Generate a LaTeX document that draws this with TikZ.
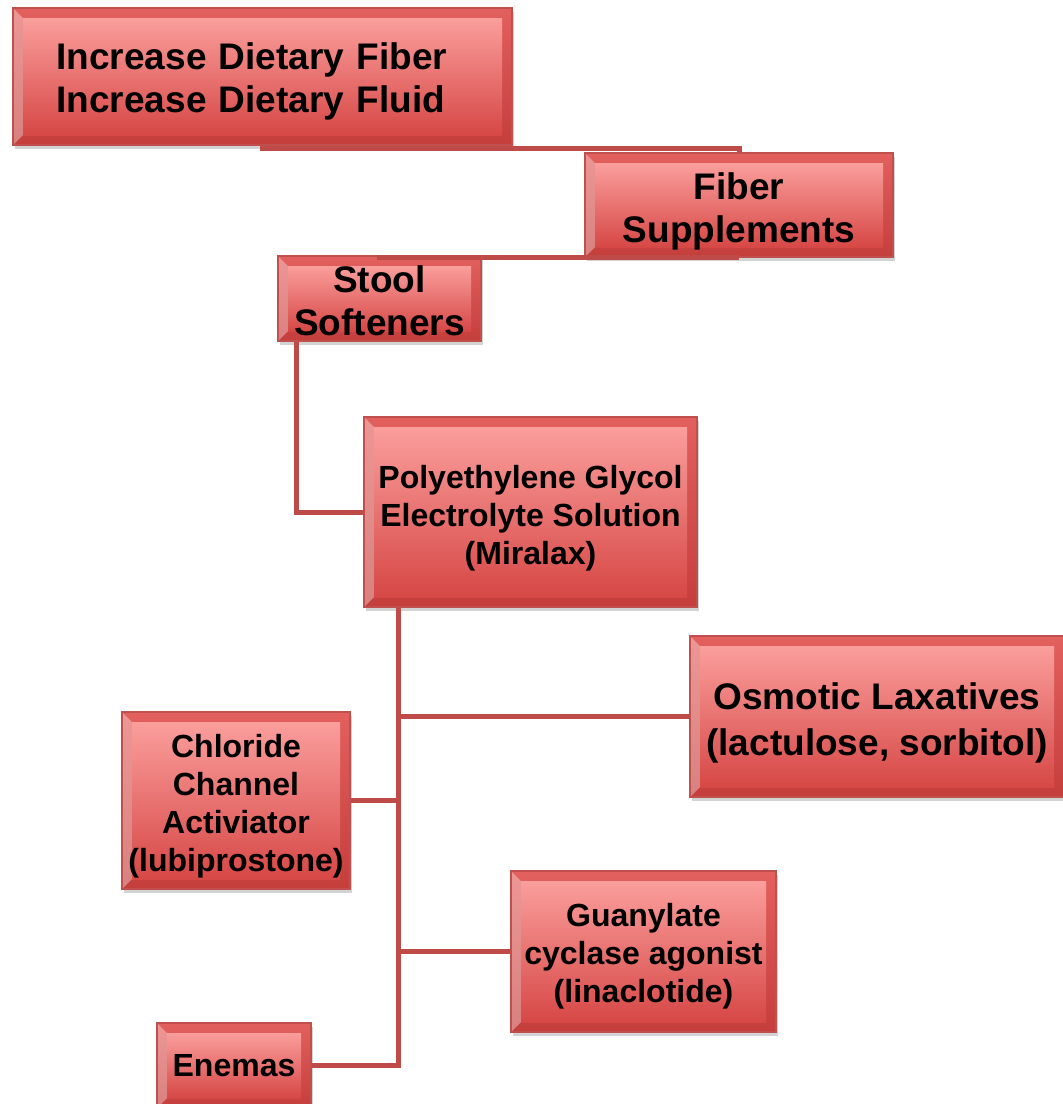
\documentclass[tikz,border=0pt]{standalone}
\usepackage{fontspec}
\setmainfont{Liberation Sans}
\usetikzlibrary{calc,shadows}
\definecolor{boxline}{RGB}{192,80,77}
\definecolor{boxtop}{RGB}{250,158,156}
\definecolor{boxbot}{RGB}{214,72,70}
\definecolor{rimtop}{RGB}{226,96,94}
\definecolor{rimbot}{RGB}{196,62,60}
\definecolor{linkred}{RGB}{190,75,72}
\begin{document}
\begin{tikzpicture}[x=0.5pt,y=-0.5pt]
	\tikzstyle{box}=[draw=boxline, line width=0.6pt, top color=rimtop, bottom color=rimbot,
		drop shadow={shadow xshift=1pt,shadow yshift=-2pt,opacity=0.35},
		align=center, inner sep=0pt, font=\bfseries\fontsize{16}{19}\selectfont,
		path picture={
			\coordinate (pa) at (path picture bounding box.north west);
			\coordinate (pb) at (path picture bounding box.south east);
			\fill[white,opacity=0.35] (pa) -- ([shift={(5pt,-5pt)}]pa) -- ([shift={(5pt,5pt)}]pa |- pb) -- (pa |- pb) -- cycle;
			\shade[top color=boxtop, bottom color=boxbot] ([shift={(5pt,-5pt)}]pa) rectangle ([shift={(-5pt,5pt)}]pb);
		}]
	\tikzstyle{big}=[font=\bfseries\fontsize{18.5}{21.5}\selectfont]
	\tikzstyle{link}=[draw=linkred, line width=2.5pt]
	\useasboundingbox (0,0) rectangle (1062,1104);
	\node[box,big,text width=206pt,align=left,text depth=20.4pt,minimum width=249.5pt,minimum height=68.5pt] (diet) at (262.5,76.5) {Increase Dietary Fiber\\Increase Dietary Fluid};
	\node[box,big,text height=37pt,text depth=0pt,minimum width=154pt,minimum height=52pt] (fiber) at (739,205) {Fiber\\Supplements};
	\node[box,big,text height=36.5pt,text depth=0pt,minimum width=101.5pt,minimum height=42.5pt] (stool) at (379.5,298.5) {Stool\\Softeners};
	\node[box,text height=52.7pt,text depth=0pt,minimum width=166.5pt,minimum height=95pt] (peg) at (530.5,512) {Polyethylene Glycol\\Electrolyte Solution\\(Miralax)};
	\node[box,font=\bfseries\fontsize{18.5}{23}\selectfont,text height=39.2pt,text depth=0pt,minimum width=187pt,minimum height=80.5pt] (osmotic) at (877,716.5) {Osmotic Laxatives\\(lactulose, sorbitol)};
	\node[box,text height=71.2pt,text depth=0pt,minimum width=114pt,minimum height=88.5pt] (chloride) at (236,800.5) {Chloride\\Channel\\Activiator\\(lubiprostone)};
	\node[box,text height=51.2pt,text depth=0pt,minimum width=132.5pt,minimum height=80.5pt] (guanylate) at (643.5,951.5) {Guanylate\\cyclase agonist\\(linaclotide)};
	\node[box,minimum width=77pt,minimum height=42.5pt] (enemas) at (234,1065.5) {Enemas};
	% connectors
	\coordinate (trunk) at ($(peg.south west)+(35,0)$);
	\draw[link] (diet.south) -- ++(0,3) -| (fiber.north);
	\draw[link] (fiber.south) -| (stool.north);
	\draw[link] ($(stool.south west)+(19,0)$) |- (peg.west);
	\draw[link] (trunk) |- (enemas.east);
	\draw[link] (osmotic.west) -- (osmotic.west -| trunk);
	\draw[link] (chloride.east) -- (chloride.east -| trunk);
	\draw[link] (guanylate.west) -- (guanylate.west -| trunk);
\end{tikzpicture}
\end{document}
